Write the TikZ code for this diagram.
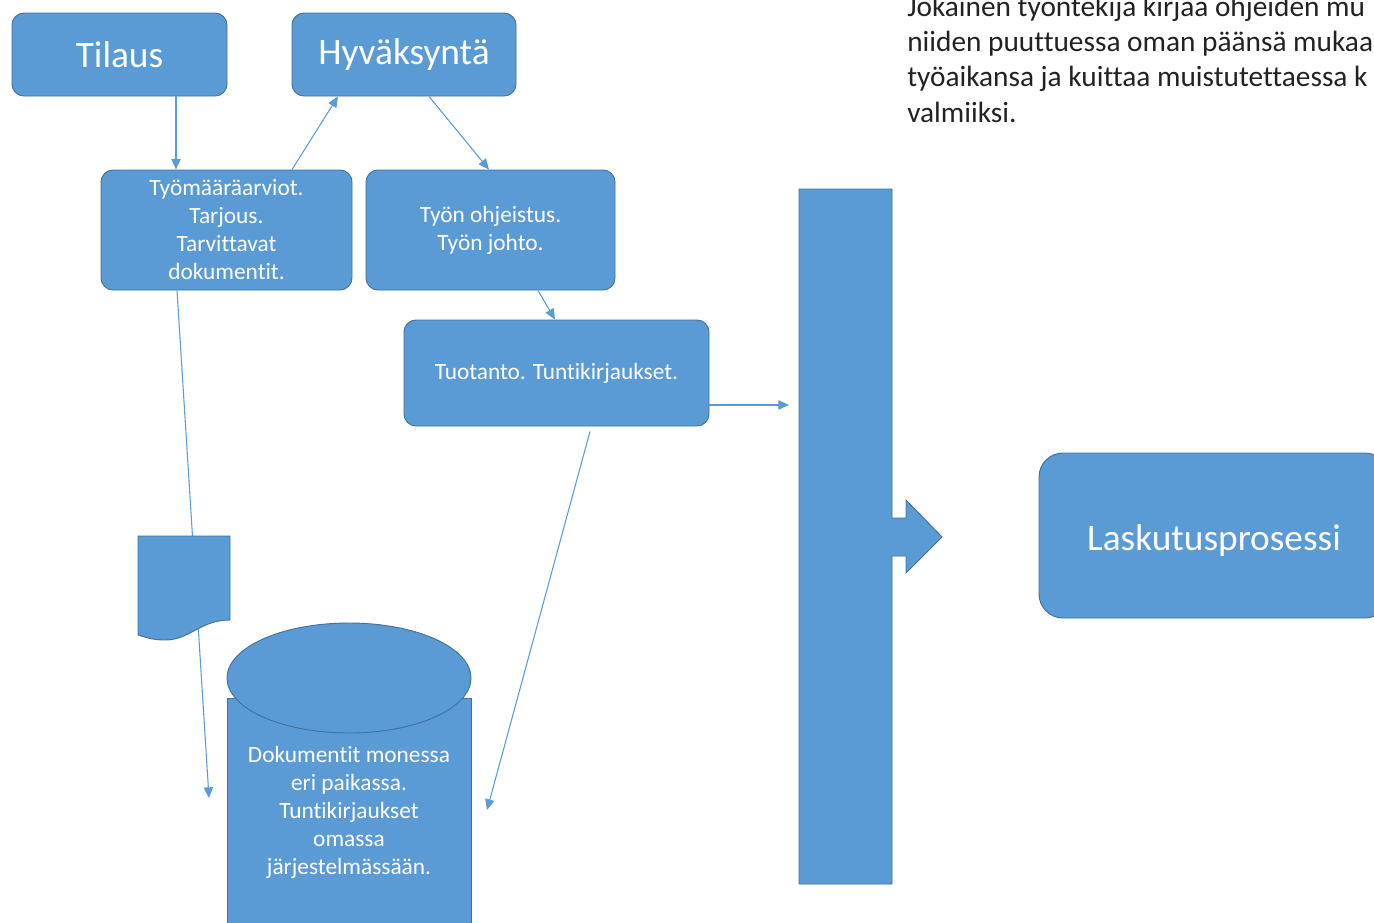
\documentclass[tikz,border=0pt]{standalone}
\usepackage{fontspec}
\setmainfont{Carlito}[Ligatures=NoCommon]
\definecolor{sininen}{HTML}{5B9BD5}
\definecolor{sininenReuna}{HTML}{41719C}
\definecolor{tekstiMusta}{HTML}{222222}
\usetikzlibrary{calc,arrows.meta}

\begin{document}
\begin{tikzpicture}[x=0.75pt, y=-0.75pt,
    every node/.style={font=\fontsize{17.5}{21}\selectfont},
    laatikko/.style={draw=sininenReuna, fill=sininen, line width=0.7pt,
      rounded corners=9pt, text=white, align=center, inner sep=0pt},
    isoTeksti/.style={font=\fontsize{28}{34}\selectfont},
    nuoli/.style={sininen, line width=0.8pt,
      -{Triangle[length=8pt,width=7pt]}}]

  \path[use as bounding box, clip] (0,0) rectangle (1374,922);

  % ── Laatikot ylhäällä ─────────────────────────────────────
  \node[laatikko, isoTeksti, minimum width=215*0.75pt, minimum height=83*0.75pt]
    (tilaus) at (119.5,54.5) {Tilaus};
  \node[laatikko, isoTeksti, minimum width=224*0.75pt, minimum height=83*0.75pt]
    (hyvaksynta) at (404,54.5) {Hyväksyntä};

  % ── Keskimmäinen rivi ─────────────────────────────────────
  \node[laatikko, minimum width=251*0.75pt, minimum height=120*0.75pt]
    (arviot) at (226.5,230)
    {Työmääräarviot.\\Tarjous.\\Tarvittavat\\dokumentit.};
  \node[laatikko, minimum width=249*0.75pt, minimum height=120*0.75pt]
    (ohjeistus) at (490.5,230) {Työn ohjeistus.\\Työn johto.};
  \node[laatikko, minimum width=305*0.75pt, minimum height=106*0.75pt]
    (tuotanto) at (556.5,373) {Tuotanto. Tuntikirjaukset.};

  % ── Laskutus oikealla ─────────────────────────────────────
  \node[laatikko, isoTeksti, rounded corners=18pt, text height=27pt,
        minimum width=350*0.75pt, minimum height=165*0.75pt]
    (laskutus) at (1214,535.5) {Laskutusprosessi};

  % ── Ohjeteksti (viimeisen rivin perusviiva) ───────────────
  \node[text=tekstiMusta, align=left, anchor=base west, inner sep=0pt,
        font=\fontsize{22}{26.5}\selectfont] (ohjeTeksti) at (907,122)
    {Jokainen työntekijä kirjaa ohjeiden mu\\niiden puuttuessa oman päänsä mukaa\\%
     työaikansa ja kuittaa muistutettaessa k\\valmiiksi.};

  % ── Palkki ja nuolenpää ───────────────────────────────────
  \draw[sininenReuna, fill=sininen, line width=0.7pt]
    (799,189) -- (892,189) -- (892,518) -- (906,518) -- (906,500)
    -- (942,537) -- (906,573) -- (906,556) -- (892,556) -- (892,884)
    -- (799,884) -- cycle;

  % ── Tietokanta ────────────────────────────────────────────
  \draw[sininenReuna, fill=sininen, line width=0.7pt]
    (227,960) -- (227,698) -- (471,698) -- (471,960);
  \draw[sininenReuna, fill=sininen, line width=0.7pt]
    (349,678) ellipse [x radius=122, y radius=55];
  \node[text=white, align=center] (kantaTeksti) at (349,812)
    {Dokumentit monessa\\eri paikassa.\\Tuntikirjaukset\\omassa\\järjestelmässään.};

  % ── Nuolet ────────────────────────────────────────────────
  \coordinate (palkkiNuoli) at (789,405);
  \coordinate (dokNuoli) at (209,798);
  \coordinate (kantaNuoli) at (487,810);
  \draw[nuoli] ($(tilaus.south)+(56.5,0)$) -- ($(arviot.north)+(-50.5,0)$);
  \draw[nuoli] ($(arviot.north)+(65.5,0)$) -- ($(hyvaksynta.south)+(-66,0)$);
  \draw[nuoli] ($(hyvaksynta.south)+(25,0)$) -- ($(ohjeistus.north)+(-1.5,0)$);
  \draw[nuoli] ($(ohjeistus.south)+(47.5,0)$) -- ($(tuotanto.north)+(-1.5,0)$);
  \draw[nuoli] ($(tuotanto.east)+(0,32)$) -- (palkkiNuoli);
  \draw[nuoli] ($(arviot.south)+(-49.5,0)$) -- (dokNuoli);
  \draw[nuoli] ($(tuotanto.south)+(33.5,5)$) -- (kantaNuoli);

  % ── Dokumentti (nuolen päällä) ────────────────────────────
  \draw[sininenReuna, fill=sininen, line width=0.7pt]
    (138,536) -- (230,536) -- (230,620)
    .. controls (200,620) and (190,640) .. (165,640)
    .. controls (152,640) and (145,637) .. (138,635) -- cycle;

\end{tikzpicture}
\end{document}
